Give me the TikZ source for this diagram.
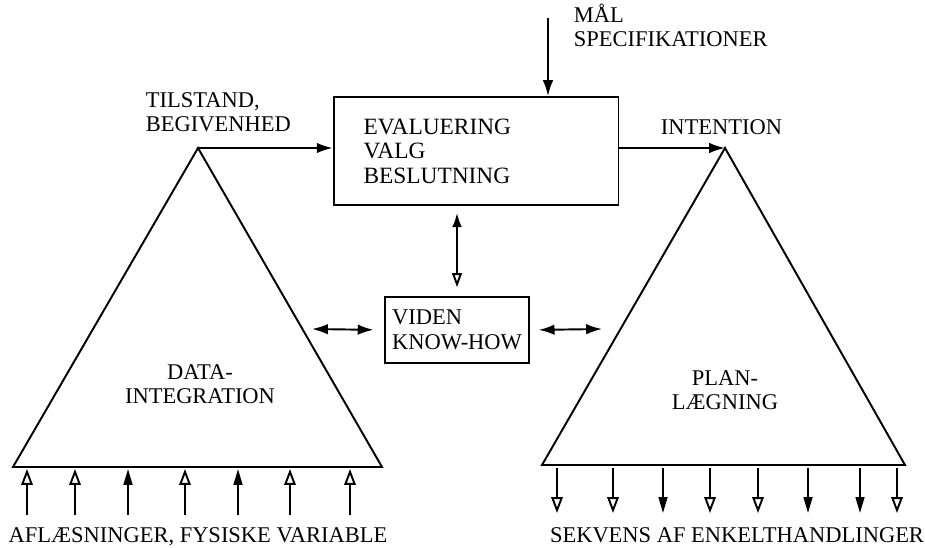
\documentclass[tikz,border=0pt]{standalone}
\usepackage{fontspec}
\setmainfont{Liberation Serif}
\usetikzlibrary{arrows.meta}

\begin{document}
\begin{tikzpicture}[
            x = 0.02cm, y = -0.02cm, % one unit is one pixel, y runs down
            > = {Latex[length=9pt,width=6pt]}, % arrow head style
            line width = 1.1pt,
            font = \fontsize{12.8}{14}\selectfont,
            every node/.style = {inner sep=0pt},
            opentip/.style = {-{Triangle[open,length=9pt,width=6.5pt]}},
            filltip/.style = {-{Triangle[length=9pt,width=5pt]}}
        ]
    \useasboundingbox (0,0) rectangle (925,547);

    % the two triangles
    \coordinate (tl) at (198,148);
    \coordinate (dl) at (13,467);
    \coordinate (dr) at (382,467);
    \coordinate (tr) at (725,148);
    \coordinate (pl) at (542,465);
    \coordinate (pr) at (905,465);
    \draw (dl) -- (tl) -- (dr) -- cycle;
    \draw (pl) -- (tr) -- (pr) -- cycle;

    \node[draw, align=left, text width=4.5cm, inner xsep=0.6cm, minimum height=2.16cm, font=\fontsize{13.3}{14}\selectfont] (eval) at (476,151) {EVALUERING\\VALG\\BESLUTNING};
    \node[draw, align=left, inner xsep=0.14cm, minimum height=1.32cm] (viden) at (457,330) {VIDEN\\KNOW-HOW};

    \node[align=left, anchor=south west] (state) at (145,133) {TILSTAND,\\BEGIVENHED};
    \node[anchor=base west] (intent) at (660,135) {INTENTION};
    \node[align=left, anchor=south west] (goal) at (573,48) {MÅL\\SPECIFIKATIONER};
    \node[align=center] (data) at (200,384) {DATA-\\INTEGRATION};
    \node[align=center] (plan) at (725,390) {PLAN-\\LÆGNING};
    \node[anchor=base] (input) at (198,542) {AFLÆSNINGER, FYSISKE VARIABLE};
    \node[anchor=base] (output) at (737,542) {SEKVENS AF ENKELTHANDLINGER};

    \coordinate (src) at (548,18);
    \draw[->] (src) -- (src |- eval.north);
    \draw[->] (tl) -- (tl -| eval.west);
    \draw[->] (eval.east |- tr) -- (tr);
    \draw[{Latex[length=8pt,width=5.5pt]}-{Triangle[open,length=8pt,width=5.5pt]}, shorten <=4pt, shorten >=5pt]
        (eval.south -| viden.north) -- (viden.north);

    \coordinate (kl) at (312,329);
    \coordinate (kr) at (602,329);
    \draw[<->, shorten <=6pt] (viden.west) -- (kl);
    \draw[<->, shorten <=5pt] (viden.east) -- (kr);

    % readings in, actions out
    \foreach \x/\s in {27/opentip,75/opentip,128/filltip,185/opentip,238/filltip,290/opentip,350/opentip}
        \draw[\s] (\x,515) -- (\x,469);
    \foreach \x/\s in {557/opentip,613/opentip,663/filltip,710/opentip,758/opentip,808/filltip,860/filltip,897/opentip}
        \draw[\s] (\x,468) -- (\x,513);
\end{tikzpicture}
\end{document}
